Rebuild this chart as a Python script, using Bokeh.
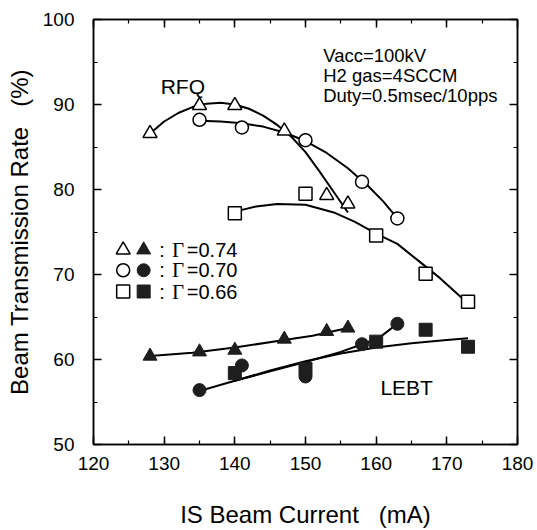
from bokeh.plotting import figure
from bokeh.models import LinearAxis, SingleIntervalTicker, Range1d
from bokeh.core.properties import value
from bokeh.embed import file_html
from bokeh.resources import INLINE

# ---------------- data ----------------
# RFQ transmission (open symbols)
rfq_tri_x = [128, 135, 140, 147, 153, 156]
rfq_tri_y = [86.6, 89.9, 89.9, 86.9, 79.3, 78.3]
rfq_cir_x = [135, 141, 150, 158, 163]
rfq_cir_y = [88.2, 87.3, 85.8, 80.9, 76.6]
rfq_sq_x = [140, 150, 160, 167, 173]
rfq_sq_y = [77.2, 79.5, 74.6, 70.1, 66.8]

# LEBT transmission (filled symbols)
lebt_tri_x = [128, 135, 140, 147, 153, 156]
lebt_tri_y = [60.4, 60.9, 61.1, 62.4, 63.3, 63.7]
lebt_cir_x = [135, 141, 150, 158, 163]
lebt_cir_y = [56.4, 59.3, 58.0, 61.8, 64.2]
lebt_sq_x = [140, 150, 160, 167, 173]
lebt_sq_y = [58.4, 58.9, 62.1, 63.5, 61.5]

# trend curves as drawn in the reference
rfq_tri_fit_x = [128, 130, 132, 134, 136, 138, 140, 142, 144, 146, 148, 150, 152, 154, 156]
rfq_tri_fit_y = [86.6, 88.0, 89.0, 89.7, 90.1, 90.2, 90.0, 89.5, 88.7, 87.6, 86.2, 84.4, 82.1, 79.7, 77.3]
rfq_cir_fit_x = [135, 138, 141, 144, 147, 150, 153, 156, 159, 161, 163]
rfq_cir_fit_y = [88.1, 88.0, 87.8, 87.4, 86.7, 85.7, 84.3, 82.5, 80.3, 78.6, 76.6]
rfq_sq_fit_x = [141, 143, 146, 150, 154, 157, 160, 163, 166, 169, 171, 173]
rfq_sq_fit_y = [77.6, 78.0, 78.3, 78.2, 77.3, 76.2, 74.8, 73.6, 71.6, 69.6, 68.1, 66.6]

lebt_tri_fit_x = [128, 134, 140, 147, 151, 156]
lebt_tri_fit_y = [60.4, 60.8, 61.4, 62.3, 62.8, 63.7]
lebt_cir_fit_x = [135, 140, 145, 150, 155, 158, 160.5, 163]
lebt_cir_fit_y = [56.3, 57.5, 58.6, 59.7, 60.9, 61.8, 62.6, 64.2]
lebt_sq_fit_x = [140, 145, 150, 155, 160, 165, 170, 173]
lebt_sq_fit_y = [57.5, 58.7, 59.8, 60.7, 61.4, 61.9, 62.3, 62.5]

gamma_labels = ["=0.74", "=0.70", "=0.66"]
legend_markers = ["triangle", "circle", "square"]
conditions = ["Vacc=100kV", "H2 gas=4SCCM", "Duty=0.5msec/10pps"]

# ---------------- figure ----------------
FONT = "Liberation Sans"
p = figure(width=535, height=530, x_range=Range1d(120, 180), y_range=Range1d(50, 100),
           output_backend="svg", toolbar_location=None,
           min_border_left=93, min_border_right=18, min_border_top=19, min_border_bottom=86)
p.xgrid.visible = False
p.ygrid.visible = False
p.background_fill_color = "white"
p.border_fill_color = "white"
p.outline_line_color = "black"
p.outline_line_width = 1.5


def style_axis(ax, labels=True):
    ax.ticker = SingleIntervalTicker(interval=10, num_minor_ticks=2)
    ax.major_tick_in = 8
    ax.major_tick_out = 0
    ax.minor_tick_in = 4
    ax.minor_tick_out = 0
    ax.axis_line_color = "black"
    ax.axis_line_width = 1.5
    ax.major_tick_line_color = "black"
    ax.major_tick_line_width = 1.5
    ax.minor_tick_line_color = "black"
    ax.minor_tick_line_width = 1.2
    ax.major_label_text_font = FONT
    ax.axis_label_text_font = FONT
    ax.axis_label_text_font_size = "24px"
    ax.axis_label_text_font_style = "normal"
    ax.axis_label_text_color = "black"
    if labels:
        ax.major_label_text_font_size = "19px"
        ax.major_label_text_color = "black"
    else:
        ax.major_label_text_font_size = "1px"
        ax.major_label_text_color = None
        ax.major_label_standoff = 0


style_axis(p.xaxis[0])
style_axis(p.yaxis[0])
p.xaxis[0].major_label_standoff = 12
p.yaxis[0].major_label_standoff = 19
p.xaxis[0].axis_label = "IS Beam Current\u00a0\u00a0\u00a0(mA)"
p.yaxis[0].axis_label = "Beam Transmission Rate\u00a0\u00a0\u00a0(%)"
p.xaxis[0].axis_label_standoff = 28
p.yaxis[0].axis_label_standoff = 7

top_ax = LinearAxis()
style_axis(top_ax, labels=False)
p.add_layout(top_ax, "above")
right_ax = LinearAxis()
style_axis(right_ax, labels=False)
p.add_layout(right_ax, "right")

# ---------------- curves ----------------
LW = 2
for fx, fy in [(rfq_tri_fit_x, rfq_tri_fit_y), (rfq_cir_fit_x, rfq_cir_fit_y),
               (rfq_sq_fit_x, rfq_sq_fit_y), (lebt_tri_fit_x, lebt_tri_fit_y),
               (lebt_cir_fit_x, lebt_cir_fit_y), (lebt_sq_fit_x, lebt_sq_fit_y)]:
    p.line(fx, fy, line_color="black", line_width=LW)

# ---------------- markers ----------------
TRI, RND = 14, 13
open_kw = dict(fill_color="white", line_color="black", line_width=1.5)
fill_kw = dict(fill_color="#1e1e1e", line_color="#1e1e1e", line_width=1)
p.scatter(rfq_tri_x, rfq_tri_y, marker="triangle", size=TRI, **open_kw)
p.scatter(rfq_cir_x, rfq_cir_y, marker="circle", size=RND, **open_kw)
p.scatter(rfq_sq_x, rfq_sq_y, marker="square", size=RND, **open_kw)
p.scatter(lebt_sq_x, lebt_sq_y, marker="square", size=RND, **fill_kw)
p.scatter(lebt_cir_x, lebt_cir_y, marker="circle", size=RND, **fill_kw)
p.scatter(lebt_tri_x, lebt_tri_y, marker="triangle", size=TRI, **fill_kw)

# ---------------- legend block ----------------
leg_y = [72.9, 70.5, 68.0]
leg_open_x = [124.2] * 3
leg_fill_x = [127.1] * 3
for m, yy, ox, fx in zip(legend_markers, leg_y, leg_open_x, leg_fill_x):
    sz = TRI if m == "triangle" else RND
    p.scatter([ox], [yy], marker=m, size=sz, **open_kw)
    p.scatter([fx], [yy], marker=m, size=sz, **fill_kw)
p.text([129.3] * 3, leg_y, text=[":"] * 3, text_font=value(FONT), text_font_size="20px",
       text_baseline="middle", text_align="left", text_color="black")
p.text([131.1] * 3, leg_y, text=["\u0393"] * 3, text_font=value("Liberation Serif"),
       text_font_size="21px", text_baseline="middle", text_align="left", text_color="black")
p.text([133.2] * 3, leg_y, text=gamma_labels, text_font=value(FONT), text_font_size="20px",
       text_baseline="middle", text_align="left", text_color="black")

# ---------------- annotations ----------------
p.text([129.5], [92.1], text=["RFQ"], text_font=value(FONT), text_font_size="21px",
       text_baseline="alphabetic", text_align="left", text_color="black")
p.text([160.6], [56.7], text=["LEBT"], text_font=value(FONT), text_font_size="21px",
       text_baseline="alphabetic", text_align="left", text_color="black")
p.text([152.5] * 3, [95.8, 93.4, 91.1], text=conditions, text_font=value(FONT),
       text_font_size="18.5px", text_baseline="alphabetic", text_align="left", text_color="black")

open("out.html", "w").write(file_html(p, INLINE))
